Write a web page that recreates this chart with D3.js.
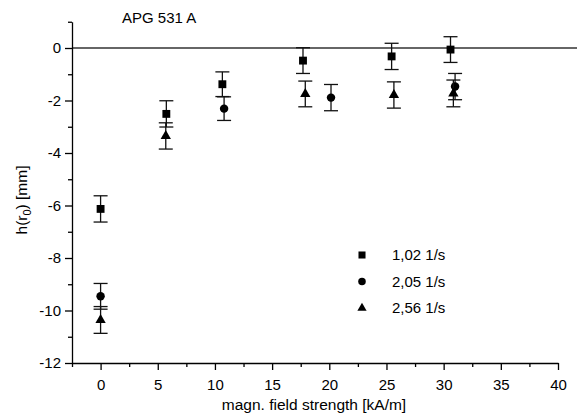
<!DOCTYPE html>
<html lang="en">
<head>
  <meta charset="UTF-8">
  <title>APG 531 A</title>
  <script src="https://cdn.jsdelivr.net/npm/d3@7"></script>
  <style>
    body { margin: 0; background: #fff; }
    svg text { font-family: "Liberation Sans", Arial, sans-serif; fill: #000; }
  </style>
</head>
<body>
<div id="chart"></div>
<script>
  // data (field strength in kA/m, h(r0) in mm, error = half bar)
  const fieldSq = [0, 5.75, 10.65, 17.7, 25.45, 30.6];
  const hSq     = [-6.13, -2.51, -1.38, -0.48, -0.32, -0.06];
  const errSq   = [0.5, 0.5, 0.47, 0.49, 0.5, 0.49];

  const fieldCi = [0, 10.8, 20.15, 31.0];
  const hCi     = [-9.46, -2.31, -1.89, -1.47];
  const errCi   = [0.49, 0.45, 0.5, 0.5];

  const fieldTr = [0, 5.7, 17.9, 25.65, 30.85];
  const hTr     = [-10.36, -3.35, -1.75, -1.79, -1.73];
  const errTr   = [0.51, 0.5, 0.49, 0.5, 0.51];

  const legendLabels = ["1,02 1/s", "2,05 1/s", "2,56 1/s"];
  const xMajor = [0, 5, 10, 15, 20, 25, 30, 35, 40];
  const xMinor = [-2.5, 2.5, 7.5, 12.5, 17.5, 22.5, 27.5, 32.5, 37.5];
  const yMajor = [0, -2, -4, -6, -8, -10, -12];
  const yMinor = [1, -1, -3, -5, -7, -9, -11];

  const width = 577, height = 416;
  const svg = d3.select("#chart").append("svg")
      .attr("width", width)
      .attr("height", height);

  const x = d3.scaleLinear().domain([-2.5, 40]).range([72, 558]);
  const y = d3.scaleLinear().domain([-12, 1]).range([363, 21.75]);

  // zero line
  svg.append("line")
      .attr("x1", x(-2.5)).attr("x2", x(41.7))
      .attr("y1", y(0)).attr("y2", y(0))
      .attr("stroke", "#333").attr("stroke-width", 1.4);

  // axes (plain hyphen for negatives, like the original)
  const fs = "15px";
  const plain = d => String(d);
  const yAx = svg.append("g").attr("transform", `translate(${x(-2.5)},0)`);
  yAx.call(d3.axisLeft(y).tickValues(yMajor).tickFormat(plain).tickSize(7).tickSizeOuter(0).tickPadding(4))
      .call(g => g.selectAll("text").style("font-size", fs));
  yAx.append("g")
      .call(d3.axisLeft(y).tickValues(yMinor).tickSize(4).tickSizeOuter(0).tickFormat(""))
      .call(g => g.select(".domain").remove());

  const xAx = svg.append("g").attr("transform", `translate(0,${y(-12)})`);
  xAx.call(d3.axisBottom(x).tickValues(xMajor).tickFormat(plain).tickSize(7).tickSizeOuter(0).tickPadding(9))
      .call(g => g.selectAll("text").style("font-size", fs));
  xAx.append("g")
      .call(d3.axisBottom(x).tickValues(xMinor).tickSize(4).tickSizeOuter(0).tickFormat(""))
      .call(g => g.select(".domain").remove());

  svg.selectAll(".domain, .tick line").attr("stroke", "#000").attr("stroke-width", 1.3);

  // series
  const series = [
    { xs: fieldSq, ys: hSq, es: errSq, sym: d3.symbolSquare, size: 62 },
    { xs: fieldCi, ys: hCi, es: errCi, sym: d3.symbolCircle, size: 56 },
    { xs: fieldTr, ys: hTr, es: errTr, sym: d3.symbolTriangle, size: 46 }
  ];

  const cap = 7;
  series.forEach(s => {
    const pts = s.xs.map((v, i) => ({ x: v, y: s.ys[i], e: s.es[i] }));
    const g = svg.append("g");
    const eb = g.selectAll(".eb").data(pts).join("g")
        .attr("stroke", "#111").attr("stroke-width", 1.3);
    eb.append("line")
        .attr("x1", d => x(d.x)).attr("x2", d => x(d.x))
        .attr("y1", d => y(d.y + d.e)).attr("y2", d => y(d.y - d.e));
    eb.append("line")
        .attr("x1", d => x(d.x) - cap).attr("x2", d => x(d.x) + cap)
        .attr("y1", d => y(d.y + d.e)).attr("y2", d => y(d.y + d.e));
    eb.append("line")
        .attr("x1", d => x(d.x) - cap).attr("x2", d => x(d.x) + cap)
        .attr("y1", d => y(d.y - d.e)).attr("y2", d => y(d.y - d.e));
    g.selectAll("path").data(pts).join("path")
        .attr("d", d3.symbol().type(s.sym).size(s.size))
        .attr("transform", d => `translate(${x(d.x)},${y(d.y)})`)
        .attr("fill", "#000");
  });

  // legend
  const lg = svg.append("g").attr("transform", "translate(362,255)");
  series.forEach((s, i) => {
    lg.append("path")
        .attr("d", d3.symbol().type(s.sym).size(s.size * 0.8))
        .attr("transform", `translate(0,${i * 26.5})`)
        .attr("fill", "#000");
    lg.append("text")
        .attr("x", 30).attr("y", i * 26.5 + 5)
        .style("font-size", fs)
        .text(legendLabels[i]);
  });

  // title and axis labels
  svg.append("text")
      .attr("x", 122).attr("y", 23)
      .style("font-size", fs)
      .text("APG 531 A");

  svg.append("text")
      .attr("x", 314).attr("y", 410)
      .attr("text-anchor", "middle")
      .style("font-size", "15.5px")
      .text("magn. field strength [kA/m]");

  const yl = svg.append("text")
      .attr("transform", "translate(27,200) rotate(-90)")
      .attr("text-anchor", "middle")
      .style("font-size", "15.5px");
  yl.append("tspan").text("h(r");
  yl.append("tspan").attr("dy", 4).style("font-size", "11px").text("0");
  yl.append("tspan").attr("dy", -4).text(") [mm]");
</script>
</body>
</html>
